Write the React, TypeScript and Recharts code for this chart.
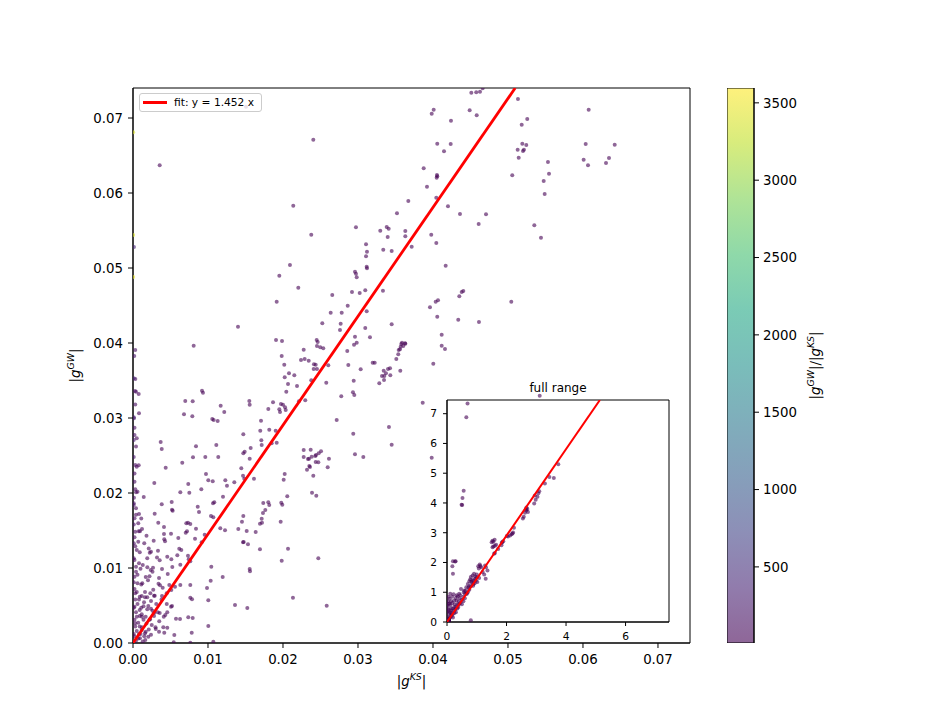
import React from 'react';
import { ScatterChart, Scatter, XAxis, YAxis, ReferenceArea, CartesianGrid } from 'recharts';

const FONT = 'DejaVu Sans, sans-serif';

// ---------- data ----------
const mainTicks = [0, 0.01, 0.02, 0.03, 0.04, 0.05, 0.06, 0.07];
const insetXTicks = [0, 2, 4, 6];
const insetYTicks = [0, 1, 2, 3, 4, 5, 6, 7];
const colorbarTicks = [500, 1000, 1500, 2000, 2500, 3000, 3500];
const MAIN_XMAX = 0.07427;
const MAIN_YMAX = 0.074;
const INSET_MAX = 7.46;
const VMIN = 8;
const VMAX = 3596;
const FIT_SLOPE = 1.452;

const mainPoints: [number, number][] = [
  [0.02404,0.06711],[0.02377,0.05444],[0.04511,0.07337],[0.04577,0.07343],[0.04627,0.07351],[0.04663,0.07396],
  [0.04009,0.07111],[0.03983,0.07057],[0.04489,0.07103],[0.04583,0.07036],[0.0424,0.06964],[0.05133,0.07253],
  [0.05257,0.06987],[0.05183,0.06911],[0.06076,0.07111],[0.04057,0.06657],[0.04236,0.06653],[0.04147,0.06556],
  [0.05191,0.06657],[0.05244,0.0664],[0.05129,0.06577],[0.05213,0.06577],[0.052,0.0656],[0.05143,0.06471],
  [0.06036,0.06653],[0.06423,0.06644],[0.06009,0.06444],[0.06067,0.06369],[0.06347,0.06467],[0.06307,0.064],
  [0.05533,0.06413],[0.05547,0.06257],[0.05476,0.0616],[0.05489,0.05987],[0.05057,0.06236],[0.03876,0.06329],
  [0.04053,0.0624],[0.04049,0.06204],[0.04057,0.06223],[0.0392,0.06084],[0.04044,0.05937],[0.042,0.05823],
  [0.0436,0.0572],[0.04707,0.05716],[0.04609,0.05587],[0.05351,0.05569],[0.0544,0.05404],[0.03671,0.05893],
  [0.0352,0.05729],[0.03297,0.05497],[0.03383,0.05547],[0.03409,0.05524],[0.03396,0.05413],[0.03631,0.05493],
  [0.03631,0.05423],[0.03716,0.05284],[0.03977,0.05444],[0.04044,0.05333],[0.03337,0.05244],[0.03449,0.05227],
  [0.03107,0.05316],[0.0312,0.05217],[0.03107,0.05156],[0.03116,0.05017],[0.0312,0.04996],[0.0296,0.04951],
  [0.02973,0.04924],[0.02983,0.04876],[0.02973,0.05543],[0.04169,0.05031],[0.02657,0.0464],[0.0292,0.0468],
  [0.03023,0.04667],[0.03097,0.04703],[0.03333,0.04697],[0.02863,0.04497],[0.02636,0.04404],[0.02783,0.04404],
  [0.03116,0.04423],[0.02524,0.04263],[0.02769,0.04257],[0.03449,0.04249],[0.0396,0.04476],[0.04036,0.04551],
  [0.04067,0.04569],[0.04057,0.04351],[0.04351,0.04623],[0.04383,0.0468],[0.04404,0.04693],[0.04337,0.04311],
  [0.04613,0.0428],[0.05044,0.04551],[0.04116,0.04111],[0.04116,0.03964],[0.0416,0.0392],[0.04004,0.03724],
  [0.05423,0.03297],[0.0276,0.04173],[0.03097,0.042],[0.0316,0.04076],[0.0296,0.04084],[0.02983,0.04004],
  [0.02947,0.03977],[0.02857,0.03893],[0.02449,0.0404],[0.02463,0.04013],[0.02453,0.0396],[0.02497,0.03943],
  [0.02537,0.03929],[0.02276,0.03911],[0.0224,0.03773],[0.02289,0.03787],[0.02343,0.03764],[0.01987,0.04027],
  [0.01983,0.03827],[0.02017,0.03711],[0.02413,0.03716],[0.02436,0.03711],[0.02409,0.03653],[0.02453,0.03653],
  [0.02604,0.03703],[0.02871,0.03707],[0.03036,0.03649],[0.02943,0.03497],[0.02577,0.03471],[0.0208,0.03596],
  [0.02023,0.03543],[0.02151,0.03569],[0.02067,0.03453],[0.02187,0.03427],[0.02044,0.03351],[0.02377,0.03503],
  [0.02777,0.03289],[0.02933,0.03343],[0.02951,0.03307],[0.02297,0.03236],[0.02213,0.03223],[0.01973,0.03187],
  [0.02,0.03177],[0.02027,0.03143],[0.02036,0.03107],[0.0196,0.0308],[0.02716,0.02973],[0.02937,0.02791],
  [0.0296,0.02516],[0.03071,0.0248],[0.02276,0.02573],[0.02369,0.02577],[0.02276,0.0248],[0.02347,0.02457],
  [0.02333,0.02453],[0.02383,0.02484],[0.02431,0.02493],[0.0244,0.02507],[0.02476,0.02529],[0.02507,0.02556],
  [0.02436,0.02413],[0.02471,0.02409],[0.02351,0.0236],[0.0236,0.02347],[0.0232,0.02311],[0.02404,0.02231],
  [0.02613,0.02457],[0.02596,0.02343],[0.02023,0.02253],[0.02009,0.02177],[0.02057,0.01956],[0.01991,0.01844],
  [0.02387,0.02004],[0.02444,0.01964],[0.01969,0.01617],[0.02067,0.01257],[0.01983,0.01097],[0.02471,0.01129],
  [0.02133,0.00604],[0.02583,0.00497],[0.03863,0.03204],[0.03983,0.02471],
  [0.03284,0.03463],[0.0332,0.03559],[0.03347,0.03507],[0.03343,0.03631],[0.03373,0.03596],[0.034,0.03653],
  [0.03427,0.03663],[0.03431,0.03569],[0.03351,0.0356],[0.03564,0.03631],[0.03511,0.03787],[0.03537,0.03849],
  [0.03543,0.03907],[0.0356,0.03916],[0.03569,0.03951],[0.03577,0.03987],[0.03604,0.0396],[0.03631,0.03991],
  [0.03587,0.04004],[0.03627,0.03996],[0.03196,0.03737],[0.03223,0.03737],[0.03413,0.0288],[0.03449,0.02644],
  [0.01907,0.0404],[0.00809,0.03964],[0.01867,0.03209],[0.0092,0.03364],[0.00933,0.03337],[0.00697,0.03227],
  [0.00796,0.03223],[0.01551,0.03227],[0.01556,0.03177],[0.01169,0.03164],[0.01217,0.0308],[0.01804,0.0312],
  [0.01951,0.03116],[0.0068,0.03049],[0.00791,0.03023],[0.01057,0.02987],[0.01076,0.02973],[0.01129,0.0296],
  [0.00027,0.0336],[0.00076,0.0332],[0.00031,0.0352],[0.00017,0.03827],[0.0008,0.03063],[0.00013,0.02996],
  [0.01707,0.02964],[0.01697,0.02831],[0.01817,0.02844],[0.01903,0.02831],[0.01711,0.02703],[0.01716,0.0264],
  [0.01849,0.02663],[0.01916,0.02671],[0.01471,0.02783],[0.00369,0.0268],[0.00383,0.02587],[0.0084,0.02623],
  [0.01111,0.0264],[0.01137,0.0248],[0.00964,0.0248],[0.008,0.02476],[0.01471,0.0253],[0.01489,0.02551],
  [0.01569,0.026],[0.01556,0.02457],[0.00657,0.02404],[0.00436,0.02337],[0.00076,0.02369],[0.00049,0.02351],
  [0.00973,0.02253],[0.01004,0.02169],[0.01063,0.02156],[0.01351,0.02143],[0.01484,0.02191],[0.01467,0.02231],
  [0.01444,0.02329],[0.01613,0.02191],[0.01231,0.02169],[0.01253,0.02097],[0.00284,0.02133],[0.00737,0.0212],
  [0.00751,0.02004],[0.00631,0.02009],[0.00911,0.02049],[0.00013,0.01937],[0.0004,0.02009],[0.00143,0.01947],
  [0.012,0.01951],[0.01067,0.01863],[0.01084,0.01876],[0.01737,0.01867],[0.01804,0.01876],[0.01817,0.0184],
  [0.01764,0.01773],[0.01977,0.01871],[0.00383,0.01849],[0.00516,0.0188],[0.0052,0.01777],[0.00529,0.01764],
  [0.00863,0.01817],[0.0088,0.01747],[0.0104,0.01693],[0.01071,0.01676],[0.01733,0.01733],[0.01716,0.01657],
  [0.01693,0.01591],[0.0172,0.01604],[0.01471,0.01693],[0.01453,0.01617],[0.00289,0.01724],[0.00337,0.01604],
  [0.00413,0.01547],[0.00711,0.01596],[0.00764,0.01587],[0.00733,0.01604],[0.01227,0.01503],[0.01164,0.01529],
  [0.01404,0.0152],[0.01516,0.01493],[0.01636,0.0148],[0.00076,0.01489],[0.00093,0.01489],[0.00276,0.01364],
  [0.00417,0.01383],[0.00427,0.01356],[0.00413,0.01453],[0.00507,0.01457],[0.00604,0.014],[0.00703,0.01471],
  [0.0072,0.01489],[0.0084,0.01524],[0.00956,0.01444],[0.00827,0.01391],[0.00916,0.01343],[0.01467,0.01343],
  [0.01476,0.01347],[0.01533,0.01316],[0.01693,0.01249],[0.00223,0.01204],[0.0024,0.01217],[0.00333,0.01231],
  [0.00356,0.01103],[0.00457,0.01151],[0.00617,0.01257],[0.00644,0.0124],[0.00733,0.01164],[0.00743,0.01116],
  [0.00764,0.01089],[0.00591,0.01169],[0.00631,0.01044],[0.00511,0.01116],[0.00524,0.01013],[0.00191,0.01009],
  [0.00236,0.00973],[0.00267,0.01004],[0.00347,0.00867],[0.00387,0.00987],[0.00463,0.0092],[0.00124,0.00796],
  [0.002,0.00836],[0.01044,0.01017],[0.01556,0.00987],[0.0156,0.00956],[0.01196,0.0088],[0.01036,0.00831],
  [0.00764,0.00773],[0.00987,0.00733],[0.00631,0.00773],[0.0056,0.00751],[0.00484,0.00773],[0.00511,0.00707],
  [0.0036,0.00769],[0.00396,0.00737],[0.00449,0.00663],[0.00231,0.00663],[0.0028,0.00631],[0.00387,0.00627],
  [0.00116,0.00627],[0.0016,0.00609],[0.00764,0.00604],[0.00787,0.00583],[0.0052,0.00493],[0.00507,0.00484],
  [0.01004,0.00569],[0.0136,0.00507],[0.01524,0.00467],[0.00147,0.00543],[0.00204,0.00493],[0.0024,0.00457],
  [0.00284,0.00404],[0.00089,0.0044],[0.00116,0.00383],[0.00169,0.00351],[0.00227,0.00316],[0.00356,0.004],
  [0.00457,0.00409],[0.00431,0.00373],[0.00573,0.00324],[0.00627,0.0032],[0.00737,0.00343],[0.00796,0.00333],
  [0.01004,0.00227],[0.00404,0.00209],[0.00457,0.00204],[0.00303,0.00187],[0.00347,0.00151],[0.00551,0.00107],
  [0.00417,0.00137],[0.00783,0.00137],[0.01071,0.00017],[0.00543,0.00009],[0.00764,0.00002],[0.00116,0.00173],
  [0.0016,0.00129],[0.00204,0.00084],[0.00093,0.00063],[0.00164,0.0004],
  [0.0003,0.03907],[0.0001,0.03529],[0.0004,0.03351],[0.0002,0.02773],[0.0005,0.02729],[0.0001,0.02707],
  [0.0003,0.02373],[0.0002,0.02151],[0.0006,0.02017],[0.0001,0.01863],[0.0004,0.01796],[0.0002,0.01663],
  [0.0007,0.01596],[0.0003,0.01484],[0.0001,0.01329],[0.0005,0.0124],[0.0002,0.01107],[0.0008,0.01063],
  [0.0004,0.01017],[0.0002,0.00884],[0.0006,0.00796],[0.0003,0.00663],[0.0009,0.00617],[0.0002,0.00484],
  [0.0005,0.00351],[0.0003,0.00263],
  [0.0006,0.0052],[0.0011,0.0047],[0.0004,0.0041],[0.0009,0.0036],[0.0014,0.0031],[0.0007,0.0027],
  [0.0003,0.0022],[0.0012,0.0021],[0.0018,0.0026],[0.0005,0.0016],[0.001,0.0012],[0.0002,0.0009],
  [0.0007,0.0006],[0.0015,0.0009],[0.0021,0.0018],[0.0025,0.0024],[0.0004,0.0003],[0.0013,0.0002],
  [0.0028,0.0036],[0.0019,0.0045],[0.0008,0.0058],[0.0016,0.0068],[0.0011,0.0078],[0.0006,0.0091],
  [0.0013,0.0104],[0.0009,0.0121],[0.0015,0.0133],[0.0012,0.0152],[0.0008,0.0172],[0.0019,0.0113],
  [0.0022,0.0089],[0.0027,0.0071],[0.0031,0.0052],[0.0035,0.0029],[0.0024,0.0011],
  [0.0001,0.0012],[0.0002,0.0031],[0.0001,0.0047],[0.0003,0.0058],[0.0002,0.0072],[0.0001,0.0081],
  [0.0004,0.0095],[0.0001,0.0113],[0.0003,0.0129],[0.0002,0.0141],[0.0001,0.0158],[0.0004,0.0171],
  [0.0001,0.0184],[0.0003,0.0205],[0.0002,0.0226],[0.0001,0.0248],[0.0004,0.0262],[0.0002,0.0287],
  [0.0001,0.0301],[0.0003,0.0318],[0.0008,0.0012],[0.0012,0.0035],[0.0017,0.0015],[0.0022,0.0031],
  [0.0026,0.0043],[0.003,0.0021],[0.0033,0.0041],[0.0009,0.0022],[0.0014,0.0049],[0.0005,0.0068],
  [0.0019,0.0061],[0.0024,0.0056],[0.0029,0.0063],[0.0034,0.0079],[0.0017,0.0088],[0.001,0.0099],
  [0.0026,0.0095],[0.0007,0.0135],[0.0018,0.0143],[0.0011,0.0166],[0.0021,0.0126],[0.0032,0.0114],
  [0.0038,0.0058],[0.0041,0.0035],[0.0045,0.0052],
  [0.00002,0.0681],[0.000016,0.0544],[0.000014,0.0488],[0.01507,0.07151],[0.00356,0.06369],[0.02137,0.05831],
  [0.02093,0.0504],[0.01951,0.04897],[0.02204,0.04737],[0.01916,0.04551],[0.014,0.04217],[0.00013,0.0528],
];

const fullRangePoints: [number, number][] = [
  [0.69,7.34],[0.65,6.88],[0.56,4.41],[0.52,4.17],[0.49,3.94],[0.51,3.93],
  [0.2,2.04],[0.29,2.04],[0.27,2.03],[0.18,1.87],[0.2,1.62],
  [3.74,5.3],[3.59,4.84],[3.44,4.87],[3.29,4.65],
  [3.1,4.39],[3.07,4.33],[2.95,4.25],[3.04,4.21],[2.98,4.11],[2.93,3.98],
  [2.67,3.85],[2.65,3.79],[2.72,3.7],[2.62,3.67],[2.58,3.54],[2.55,3.48],[2.66,3.75],[2.7,3.8],
  [2.25,3.17],[2.22,3.01],[2.17,2.95],[2.12,2.91],[2.05,2.87],[2.01,2.89],[2.2,2.97],
  [1.86,2.69],[1.89,2.71],[1.84,2.66],
  [1.53,2.73],[1.56,2.7],[1.6,2.76],[1.53,2.51],[1.56,2.54],[1.61,2.56],[1.61,2.32],[1.58,2.29],[1.65,2.6],[1.5,2.68],
  [1.72,2.45],[1.83,2.58],
  [1.28,1.9],[1.31,1.84],[1.36,1.73],[1.1,1.93],[1.05,1.87],[1.15,1.84],[1.07,1.8],[1.12,1.88],
  [1.3,1.45],[1.25,1.6],[1.2,1.68],
  [0.91,1.62],[0.86,1.56],[0.8,1.51],[0.78,1.43],[0.75,1.37],[0.82,1.35],[0.89,1.28],[0.97,1.39],[1.02,1.34],
  [1.08,1.48],[0.95,1.52],[0.85,1.4],[1.0,1.6],[0.88,1.22],[0.93,1.3],
  [0.7,1.28],[0.65,1.17],[0.58,1.06],[0.56,1.0],[0.67,0.95],[0.75,1.08],[0.72,1.15],[0.62,1.05],
  [0.47,1.11],[0.41,0.95],[0.36,0.86],[0.29,0.81],[0.22,0.93],[0.32,0.72],[0.45,0.64],[0.38,0.5],[0.5,0.75],
  [0.55,0.85],[0.43,0.8],[0.26,0.6],
  [0.11,0.95],[0.09,0.78],[0.18,0.64],[0.25,0.5],[0.13,0.39],[0.07,0.28],[0.02,0.17],[0.19,0.26],[0.3,0.33],
  [0.06,0.61],[0.11,0.56],[0.15,0.45],[0.04,0.45],[0.08,0.12],[0.16,0.2],[0.22,0.38],[0.03,0.7],[0.14,0.7],
  [0.24,0.72],[0.35,0.6],[0.05,0.85],[0.1,0.33],[0.28,0.42],
  [0.05,0.05],[0.1,0.15],[0.15,0.3],[0.2,0.45],[0.12,0.22],[0.25,0.3],[0.3,0.5],[0.35,0.45],[0.4,0.6],
  [0.02,0.35],[0.01,0.55],[0.06,0.4],[0.17,0.85],[0.09,0.62],[0.33,0.9],[0.4,0.7],[0.45,0.9],[0.6,0.8],
  [0.65,0.95],[0.55,0.7],[0.5,0.6],[0.7,1.0],[0.75,1.2],[0.8,1.2],[0.85,1.3],[0.9,1.4],[0.95,1.45],
  [1.0,1.5],[0.6,0.95],[0.2,0.15],
  [0.8,0.06],
];

const VIRIDIS = ['#440154','#482475','#414487','#355f8d','#2a788e','#21918c','#22a884','#44bf70','#7ad151','#bddf26','#fde725'];

// ---------- helpers ----------
function hexToRgb(h: string) {
  return [parseInt(h.slice(1, 3), 16), parseInt(h.slice(3, 5), 16), parseInt(h.slice(5, 7), 16)];
}
function viridis(t: number) {
  const tt = Math.max(0, Math.min(1, t));
  const n = VIRIDIS.length - 1;
  const i = Math.min(Math.floor(tt * n), n - 1);
  const f = tt * n - i;
  const a = hexToRgb(VIRIDIS[i]);
  const b = hexToRgb(VIRIDIS[i + 1]);
  const c = a.map((v, k) => Math.round(v + (b[k] - v) * f));
  return `rgb(${c[0]},${c[1]},${c[2]})`;
}
function ratioColor(x: number, y: number) {
  const r = x > 0 ? y / x : VMAX;
  return viridis((r - VMIN) / (VMAX - VMIN));
}
const makeDot = (r: number) => (props: any) => {
  const { cx, cy, payload } = props;
  if (cx == null || cy == null) return <g />;
  return <circle cx={cx} cy={cy} r={r} fill={ratioColor(payload.x, payload.y)} fillOpacity={0.6} stroke="none" />;
};
const emptyShape = () => <g />;

const mainData = mainPoints.map(([x, y]) => ({ x, y }));
const insetData = [...mainPoints, ...fullRangePoints].map(([x, y]) => ({ x, y }));
const fitMain = [{ x: 0, y: 0 }, { x: MAIN_YMAX / FIT_SLOPE, y: MAIN_YMAX }];
const fitInset = [{ x: 0, y: 0 }, { x: INSET_MAX / FIT_SLOPE, y: INSET_MAX }];
const cbData = [{ x: 0, y: VMIN }, { x: 1, y: VMAX }];

const axisStroke = { stroke: '#000', strokeWidth: 1 };
const mainTick = { fill: '#000', fontSize: 13.33, fontFamily: FONT };
const insetTick = { fill: '#000', fontSize: 10.67, fontFamily: FONT };

function MathText({ x, y, rotate, parts, size = 13.33 }: any) {
  const sup = size * 0.7;
  const shift = size * 0.42;
  return (
    <text x={x} y={y} fontSize={size} fontFamily={FONT} textAnchor="middle" fill="#000"
      transform={rotate ? `rotate(-90 ${x} ${y})` : undefined}>
      {parts.map((p: [string, string], i: number) => (
        <React.Fragment key={i}>
          <tspan>|</tspan>
          <tspan fontStyle="italic">{p[0]}</tspan>
          <tspan fontStyle="italic" fontSize={sup} dy={-shift}>{p[1]}</tspan>
          <tspan dy={shift}>|</tspan>
          {i < parts.length - 1 ? <tspan>/</tspan> : null}
        </React.Fragment>
      ))}
    </text>
  );
}

export default function App() {
  return (
    <div style={{ position: 'absolute', left: 0, top: 0, width: 926, height: 723, background: '#fff', fontFamily: FONT }}>
      {/* main axes */}
      <div style={{ position: 'absolute', left: 0, top: 0 }}>
        <ScatterChart width={926} height={723} margin={{ top: 88, right: 236, bottom: 40, left: 73 }}>
          <XAxis type="number" dataKey="x" domain={[0, MAIN_XMAX]} ticks={mainTicks} allowDataOverflow
            tickFormatter={(v: number) => v.toFixed(2)} height={40} tickSize={5} tickMargin={7}
            tick={mainTick} tickLine={axisStroke} axisLine={axisStroke} />
          <YAxis type="number" dataKey="y" domain={[0, MAIN_YMAX]} ticks={mainTicks} allowDataOverflow
            tickFormatter={(v: number) => v.toFixed(2)} width={60} tickSize={5} tickMargin={5}
            tick={mainTick} tickLine={axisStroke} axisLine={axisStroke} />
          <ReferenceArea x1={0} x2={MAIN_XMAX} y1={0} y2={MAIN_YMAX} fill="none" stroke="#000" strokeWidth={1} />
          <Scatter data={mainData} shape={makeDot(2)} isAnimationActive={false} />
          <Scatter data={fitMain} shape={emptyShape} line={{ stroke: '#ff0000', strokeWidth: 2.8 }} isAnimationActive={false} />
        </ScatterChart>
      </div>

      {/* inset */}
      <div style={{ position: 'absolute', left: 417, top: 395 }}>
        <ScatterChart width={262} height={252} margin={{ top: 5, right: 10, bottom: 0, left: 0 }}>
          <CartesianGrid fill="#fff" horizontal={false} vertical={false} />
          <XAxis type="number" dataKey="x" domain={[0, INSET_MAX]} ticks={insetXTicks} allowDataOverflow
            height={25} tickSize={4} tickMargin={6} tick={insetTick} tickLine={axisStroke} axisLine={axisStroke} />
          <YAxis type="number" dataKey="y" domain={[0, INSET_MAX]} ticks={insetYTicks} allowDataOverflow
            width={30} tickSize={4} tickMargin={6} tick={insetTick} tickLine={axisStroke} axisLine={axisStroke} />
          <Scatter data={insetData} shape={makeDot(2)} isAnimationActive={false} />
          <Scatter data={fitInset} shape={emptyShape} line={{ stroke: '#ff0000', strokeWidth: 2 }} isAnimationActive={false} />
          <ReferenceArea x1={0} x2={INSET_MAX} y1={0} y2={INSET_MAX} fill="none" stroke="#000" strokeWidth={1} />
        </ScatterChart>
      </div>

      {/* colorbar */}
      <div style={{ position: 'absolute', left: 727, top: 88 }}>
        <ScatterChart width={107} height={555} margin={{ top: 0, right: 0, bottom: 0, left: 0 }}>
          <defs>
            <linearGradient id="cbGrad" x1="0" y1="1" x2="0" y2="0">
              {VIRIDIS.map((c, i) => (
                <stop key={i} offset={i / (VIRIDIS.length - 1)} stopColor={c} stopOpacity={0.6} />
              ))}
            </linearGradient>
          </defs>
          <XAxis type="number" dataKey="x" domain={[0, 1]} hide />
          <YAxis type="number" dataKey="y" orientation="right" domain={[VMIN, VMAX]} ticks={colorbarTicks}
            width={80} tickSize={5} tickMargin={4} tick={mainTick} tickLine={axisStroke} axisLine={axisStroke} />
          <ReferenceArea x1={0} x2={1} y1={VMIN} y2={VMAX} fill="url(#cbGrad)" fillOpacity={1} stroke="#000" strokeWidth={1} />
          <Scatter data={cbData} shape={emptyShape} isAnimationActive={false} />
        </ScatterChart>
      </div>

      {/* text labels */}
      <svg width={926} height={723} style={{ position: 'absolute', left: 0, top: 0, pointerEvents: 'none' }}>
        <MathText x={411.5} y={686} parts={[['g', 'KS']]} />
        <MathText x={80} y={365.5} rotate parts={[['g', 'GW']]} />
        <MathText x={820} y={365.5} rotate parts={[['g', 'GW'], ['g', 'KS']]} />
        <text x={558} y={392} fontSize={12} fontFamily={FONT} textAnchor="middle" fill="#000">full range</text>
      </svg>

      {/* legend */}
      <div style={{
        position: 'absolute', left: 139, top: 92.5, width: 123, height: 19, boxSizing: 'border-box',
        border: '1px solid #cccccc', borderRadius: 3, background: 'rgba(255,255,255,0.8)',
      }}>
        <div style={{ position: 'absolute', left: 3, top: 7.6, width: 24, height: 2.8, background: '#ff0000' }} />
        <div style={{ position: 'absolute', left: 34, top: 0, height: 17, lineHeight: '17px', fontSize: 10.67, fontFamily: FONT, color: '#000', whiteSpace: 'nowrap' }}>
          fit: y = 1.452 x
        </div>
      </div>
    </div>
  );
}
